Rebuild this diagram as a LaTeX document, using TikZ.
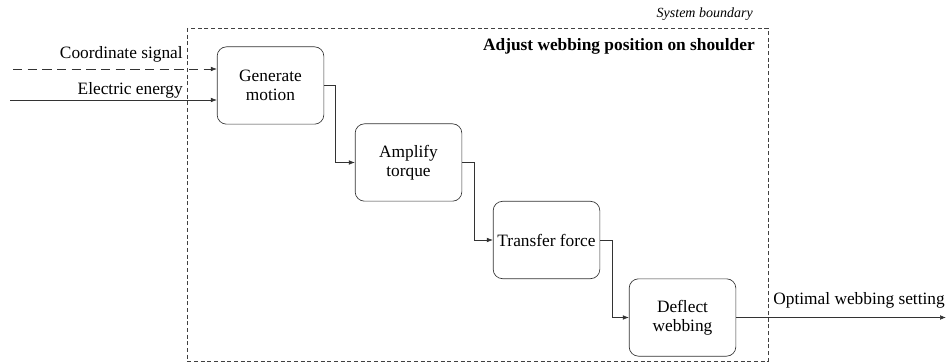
\documentclass[tikz,border=0pt]{standalone}
\usepackage{fontspec}
\setmainfont{Liberation Serif}[Ligatures=TeX]
\usetikzlibrary{arrows.meta,positioning}

\begin{document}
\begin{tikzpicture}[x=.75pt,y=-.75pt,font=\rmfamily\fontsize{13}{14.5}\selectfont,
  func/.style={draw=black!80,line width=.5pt,rounded corners=7pt,minimum width=80pt,minimum height=58pt,align=center,inner sep=1pt},
  flow/.style={draw=black!80,line width=.5pt,-{Latex[length=4.5pt,width=3.5pt]}},
  lbl/.style={inner sep=0pt}]
\useasboundingbox (0,0) rectangle (952,363);
% system boundary
\draw[black!75,line width=.5pt,dash pattern=on 3pt off 2pt] (187,28) rectangle (768,361);
\node[lbl,anchor=base east,font=\rmfamily\fontsize{10.5}{12}\selectfont\itshape] (sysname) at (753,18) {System boundary};
\node[lbl,anchor=base east,font=\rmfamily\fontsize{13}{14.5}\selectfont\bfseries] (title) at (755,51) {Adjust webbing position on shoulder};
% functions
\node[func] (gen) at (270.5,85.5) {Generate\\motion};
\node[func] (amp) at (408.5,162.5) {Amplify\\torque};
\node[func] (tra) at (546.5,240) {Transfer force};
\node[func] (def) at (682.5,317.5) {Deflect\\webbing};
% inputs
\coordinate (sigin) at (13,69);
\coordinate (elin) at (10,100);
\node[lbl,anchor=base east] (siglbl) at (183,59) {Coordinate signal};
\node[lbl,anchor=base east] (ellbl) at (183,95) {Electric energy};
\draw[flow,dash pattern=on 7pt off 4pt] (sigin) -- (sigin -| gen.west);
\draw[flow] (elin) -- (elin -| gen.west);
% internal flows
\draw[flow] (gen.east) -- (335,85.5) |- (amp.west);
\draw[flow] (amp.east) -- (474,162.5) |- (tra.west);
\draw[flow] (tra.east) -- (612,240) |- (def.west);
% output
\coordinate (out) at (946,317.5);
\node[lbl,anchor=base east] (outlbl) at (945,304) {Optimal webbing setting};
\draw[flow] (def.east) -- (out);
\end{tikzpicture}
\end{document}
